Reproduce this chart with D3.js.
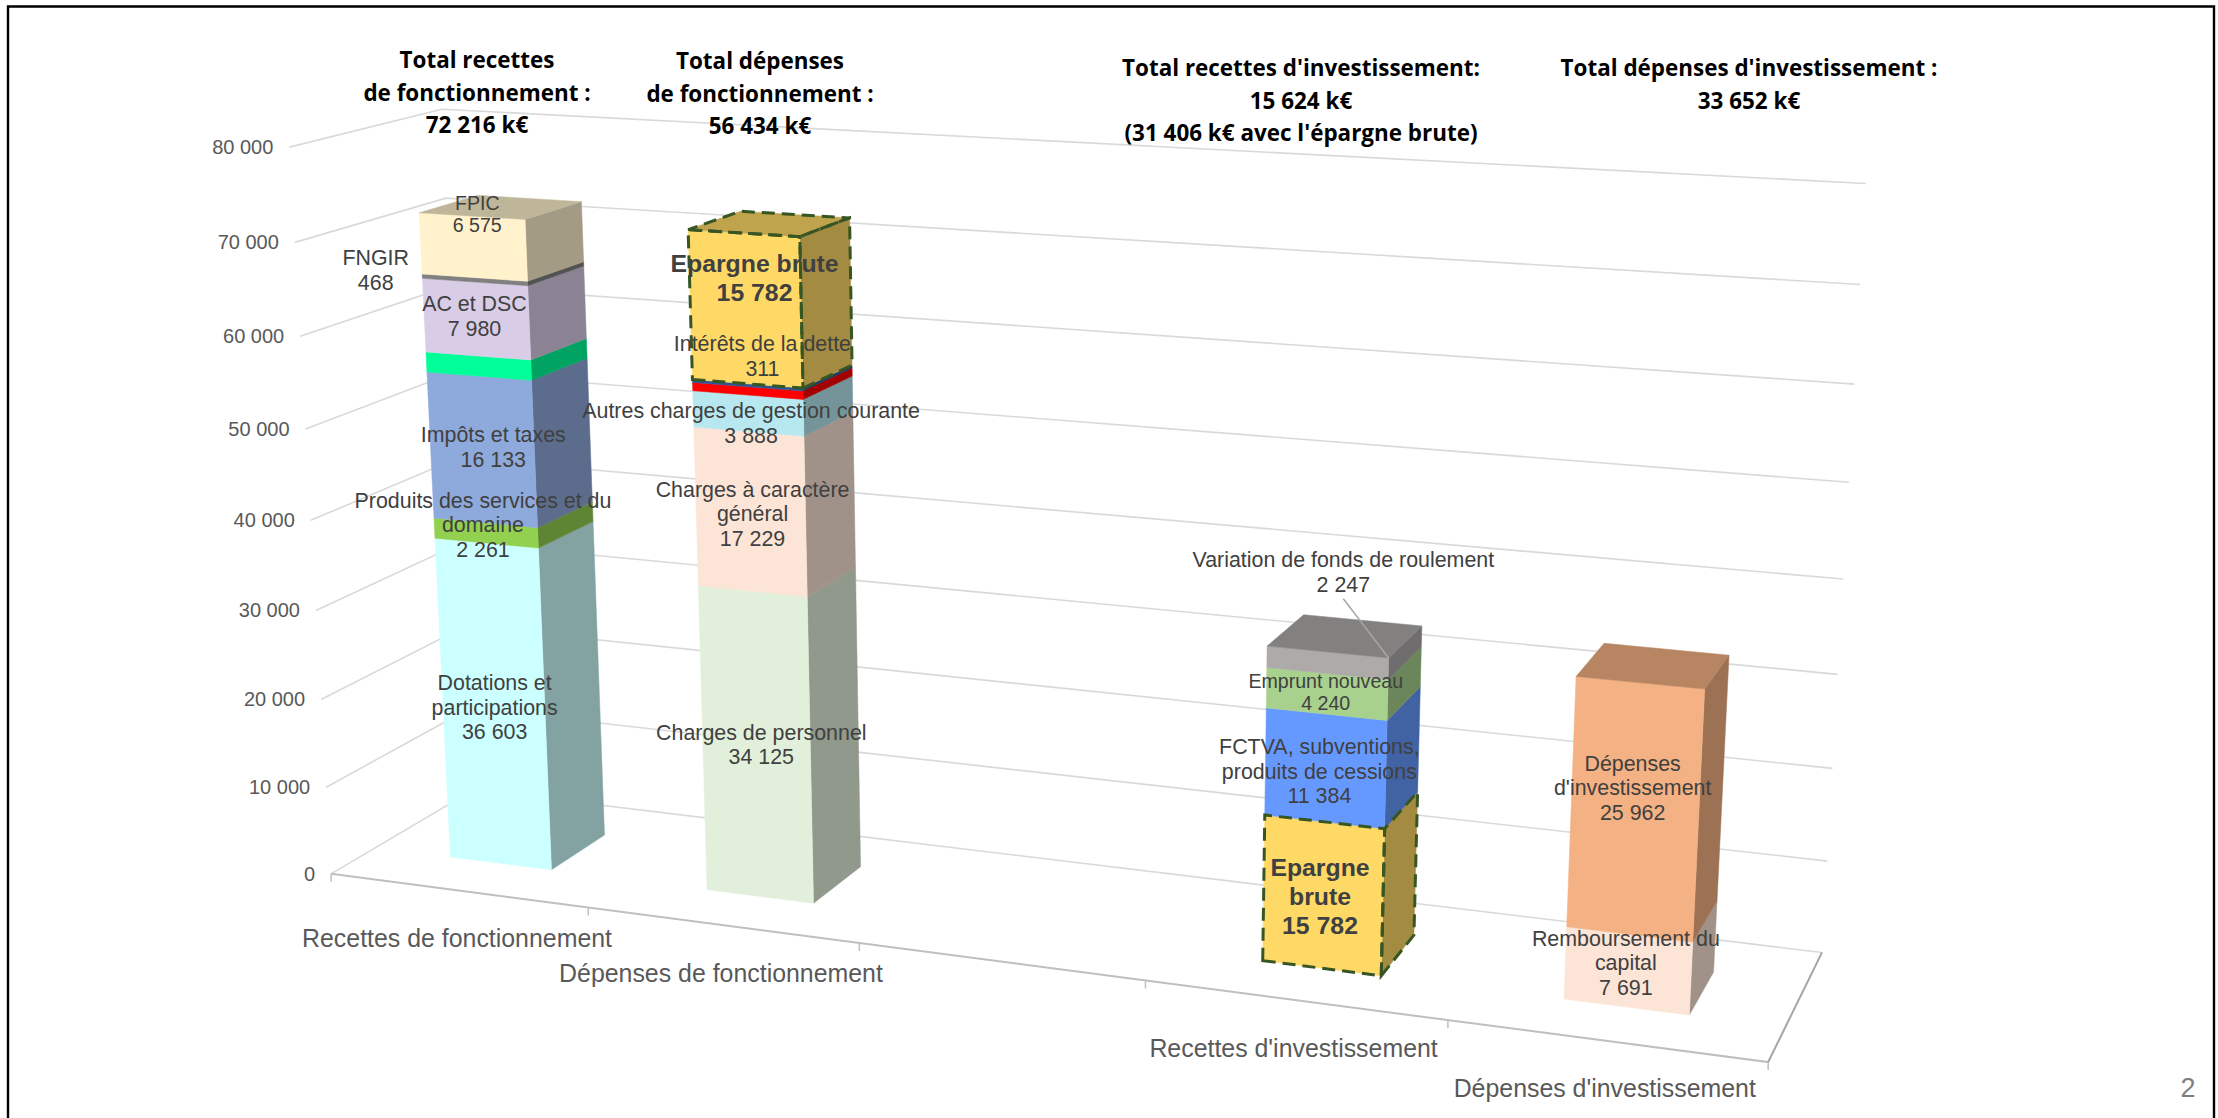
<!DOCTYPE html>
<html>
<head>
<meta charset="utf-8">
<script src="https://cdn.jsdelivr.net/npm/d3@7"></script>
<style>
  body { margin: 0; background: #fff; }
  text { font-family: "Liberation Sans", Arial, sans-serif; }
</style>
</head>
<body>
<div id="maViz"></div>
<script>
// Données
const categories = ["Recettes de fonctionnement", "Dépenses de fonctionnement", "", "Recettes d'investissement", "Dépenses d'investissement"];
const yTicks = [0, 10000, 20000, 30000, 40000, 50000, 60000, 70000, 80000];

const recettesFonctValeurs = [36603, 2261, 16133, 2196, 7980, 468, 6575];
const recettesFonctNoms = ["Dotations et\nparticipations", "Produits des services et du\ndomaine", "Impôts et taxes", "", "AC et DSC", "FNGIR", "FPIC"];
const depensesFonctValeurs = [34125, 17229, 3888, 881, 311, 15782];
const depensesFonctNoms = ["Charges de personnel", "Charges à caractère\ngénéral", "Autres charges de gestion courante", "", "Intérêts de la dette", "Epargne brute"];
const recettesInvValeurs = [15782, 11384, 4240, 2247];
const recettesInvNoms = ["Epargne\nbrute", "FCTVA, subventions,\nproduits de cessions", "Emprunt  nouveau", "Variation de fonds de roulement"];
const depensesInvValeurs = [7691, 25962];
const depensesInvNoms = ["Remboursement du\ncapital", "Dépenses\nd'investissement"];

const totaux = [
  ["Total recettes", "de fonctionnement :", "72 216 k€"],
  ["Total dépenses", "de fonctionnement :", "56 434 k€"],
  ["Total recettes d'investissement:", "15 624 k€", "(31 406 k€ avec l'épargne brute)"],
  ["Total dépenses d'investissement :", "33 652 k€"]
];

// Styles
const recettesFonctCouleurs = ["#CCFFFF", "#92D050", "#8EA9DB", "#00FF99", "#D9CCE6", "#808080", "#FFF2CC"];
const depensesFonctCouleurs = ["#E2EFDA", "#FCE4D6", "#B7E8EF", "#FF0000", "#2F5597", "#FFD966"];
const recettesInvCouleurs = ["#FFD966", "#6699FF", "#A9D18E", "#AEAAAA"];
const depensesInvCouleurs = ["#FCE4D6", "#F4B183"];
const sideShade = 0.64, topShade = 0.75;

// décalage des étiquettes par rapport au centre de la face avant (déplacées à la main dans l'original)
const recettesFonctDecal = [[1, 2], [-3, -8], [11, -3], null, [-2, -3], [-99, -10], [4, -33]];
const depensesFonctDecal = [[5, -1], [2, 2], [3, 10], null, [15, -29], [9, -31]];
const recettesInvDecal = [[-3, 1], [-6, 3], [-1, -2], [16, -91]];
const depensesInvDecal = [[-2, -8], [-2, -22]];
const petitesEtiquettes = ["FPIC", "Emprunt  nouveau"];

const barres = [
  {cat: 0, val: recettesFonctValeurs, noms: recettesFonctNoms, couleurs: recettesFonctCouleurs, decal: recettesFonctDecal},
  {cat: 1, val: depensesFonctValeurs, noms: depensesFonctNoms, couleurs: depensesFonctCouleurs, decal: depensesFonctDecal},
  {cat: 3, val: recettesInvValeurs, noms: recettesInvNoms, couleurs: recettesInvCouleurs, decal: recettesInvDecal},
  {cat: 4, val: depensesInvValeurs, noms: depensesInvNoms, couleurs: depensesInvCouleurs, decal: depensesInvDecal}
];

const width = 2218, height = 1118;
const svg = d3.select("#maViz").append("svg").attr("width", width).attr("height", height);

// Echelles : tout est ramené dans un cube [0,1]
const x = d3.scaleBand().domain(d3.range(categories.length)).range([0, 1]).paddingInner(0.6).paddingOuter(0.3);
const xEdge = d3.scaleLinear().domain([0, categories.length]).range([0, 1]);
const y = d3.scaleLinear().domain([0, 80000]).range([0, 1]);
const z = d3.scaleBand().domain([0]).range([0, 1]).paddingInner(0).paddingOuter(0.75);
const fmt = d3.formatLocale({decimal: ",", thousands: " ", grouping: [3], currency: ["", ""]}).format(",d");

// Caméra du graphique 3D : repères du cadre, matrice résolue par moindres carrés
const reperes = [
  [0, 0, 0, 331, 874], [1, 0, 0, 1769, 1062], [0, 0, 1, 474, 790], [1, 0, 1, 1822, 952],
  [0, 1, 0, 290, 147], [0, 1, 1, 441, 109], [1, 1, 1, 1866, 184],
  [0.2, 0, 0, 588, 908], [0.4, 0, 0, 859, 943], [0.8, 0, 0, 1447, 1020], [0, 0.5, 0, 311, 520]
];
function resoudre(A, b) {
  const n = b.length, M = A.map((l, i) => [...l, b[i]]);
  for (let i = 0; i < n; i++) {
    let p = i;
    for (let k = i + 1; k < n; k++) if (Math.abs(M[k][i]) > Math.abs(M[p][i])) p = k;
    [M[i], M[p]] = [M[p], M[i]];
    for (let k = 0; k < n; k++) {
      if (k === i) continue;
      const f = M[k][i] / M[i][i];
      for (let j = i; j <= n; j++) M[k][j] -= f * M[i][j];
    }
  }
  return M.map((l, i) => l[n] / l[i]);
}
function camera(pts) {
  const lignes = [], cibles = [];
  pts.forEach(([u, w, t, px, py]) => {
    const a = px / 1000, c = py / 1000;
    lignes.push([u, w, t, 1, 0, 0, 0, 0, -a * u, -a * w, -a * t]); cibles.push(a);
    lignes.push([0, 0, 0, 0, u, w, t, 1, -c * u, -c * w, -c * t]); cibles.push(c);
  });
  const N = d3.range(11).map(i => d3.range(11).map(j => d3.sum(lignes, l => l[i] * l[j])));
  const v = d3.range(11).map(i => d3.sum(lignes, (l, k) => l[i] * cibles[k]));
  return resoudre(N, v);
}
const P = camera(reperes);
function proj(u, w, t) {
  const d = P[8] * u + P[9] * w + P[10] * t + 1;
  return [1000 * (P[0] * u + P[1] * w + P[2] * t + P[3]) / d, 1000 * (P[4] * u + P[5] * w + P[6] * t + P[7]) / d];
}
const ligne = d3.line();

// Cadre noir de la diapo
svg.append("path").attr("d", ligne([[8, height], [8, 6.5], [2214, 6.5], [2214, height]]))
  .attr("fill", "none").attr("stroke", "#000").attr("stroke-width", 2.4);

// Grille (paroi gauche + paroi du fond)
const grille = svg.append("g").attr("fill", "none").attr("stroke", "#D9D9D9").attr("stroke-width", 1.6);
yTicks.forEach(d => {
  grille.append("path").attr("d", ligne([proj(0, y(d), 0), proj(0, y(d), 1), proj(1, y(d), 1)]));
});

// Sol
svg.append("path").attr("d", ligne([proj(0, 0, 0), proj(1, 0, 0), proj(1, 0, 1)]))
  .attr("fill", "none").attr("stroke", "#BFBFBF").attr("stroke-width", 2);
svg.append("path").attr("d", ligne([proj(1, 0, 0), proj(1, 0, 1)]))
  .attr("fill", "none").attr("stroke", "#A6A6A6").attr("stroke-width", 1.6);

// Petits traits sous le sol
d3.range(categories.length + 1).forEach(i => {
  const p = proj(xEdge(i), 0, 0);
  svg.append("line").attr("x1", p[0]).attr("x2", p[0]).attr("y1", p[1]).attr("y2", p[1] + 8)
    .attr("stroke", "#BFBFBF").attr("stroke-width", 1.5);
});

// Axe des valeurs
svg.append("g").selectAll("text").data(yTicks).join("text")
  .attr("x", d => proj(0, y(d), 0)[0] - 16)
  .attr("y", d => proj(0, y(d), 0)[1])
  .attr("dy", "0.35em").attr("text-anchor", "end")
  .attr("font-size", 20).attr("fill", "#595959")
  .text(d => fmt(d));

// Noms des catégories
svg.append("g").selectAll("text").data(categories).join("text")
  .attr("x", (d, i) => proj(x(i) + x.bandwidth() / 2, 0, 0)[0] - 1)
  .attr("y", (d, i) => proj(x(i) + x.bandwidth() / 2, 0, 0)[1] + 48)
  .attr("dy", "0.35em").attr("text-anchor", "middle")
  .attr("font-size", 24.9).attr("fill", "#595959")
  .text(d => d);

function assombrir(c, k) {
  const r = d3.rgb(c);
  return d3.rgb(r.r * k, r.g * k, r.b * k).formatHex();
}

// Barres empilées
const groupeBarres = svg.append("g");
const groupePointilles = svg.append("g");
const groupeEtiquettes = svg.append("g").attr("text-anchor", "middle").attr("fill", "#404040");

barres.forEach(b => {
  const u0 = x(b.cat), u1 = u0 + x.bandwidth();
  const t0 = z(0), t1 = t0 + z.bandwidth();
  let cumul = 0;
  b.val.forEach((v, i) => {
    const w0 = y(cumul), w1 = y(cumul + v);
    cumul += v;
    const avant = [proj(u0, w0, t0), proj(u1, w0, t0), proj(u1, w1, t0), proj(u0, w1, t0)];
    const cote = [proj(u1, w0, t0), proj(u1, w0, t1), proj(u1, w1, t1), proj(u1, w1, t0)];
    const dessus = [proj(u0, w1, t0), proj(u1, w1, t0), proj(u1, w1, t1), proj(u0, w1, t1)];
    const faces = [[cote, assombrir(b.couleurs[i], sideShade)], [avant, b.couleurs[i]]];
    if (i === b.val.length - 1) faces.push([dessus, assombrir(b.couleurs[i], topShade)]);
    faces.forEach(([pts, c]) => {
      groupeBarres.append("path").attr("d", ligne(pts) + "Z")
        .attr("fill", c).attr("stroke", c).attr("stroke-width", 0.5);
    });

    const epargne = b.noms[i].startsWith("Epargne");
    if (epargne) {
      faces.forEach(([pts]) => {
        groupePointilles.append("path").attr("d", ligne(pts) + "Z")
          .attr("fill", "none").attr("stroke", "#375623").attr("stroke-width", 3)
          .attr("stroke-dasharray", "13 7");
      });
    }

    // Etiquette : nom + valeur
    if (b.noms[i]) {
      const c = proj((u0 + u1) / 2, (w0 + w1) / 2, t0);
      const lignes = [...b.noms[i].split("\n"), fmt(v)];
      const petite = petitesEtiquettes.includes(b.noms[i]);
      const fs = epargne ? 24.8 : petite ? 19.6 : 21.4;
      const lh = epargne ? 29 : petite ? 22 : 24.7;
      const cx = c[0] + b.decal[i][0], cy = c[1] + b.decal[i][1];
      const txt = groupeEtiquettes.append("text")
        .attr("font-size", fs).attr("font-weight", epargne ? "bold" : "normal");
      lignes.forEach((l, k) => {
        txt.append("tspan").attr("x", cx)
          .attr("y", cy + (k - (lignes.length - 1) / 2) * lh)
          .attr("dy", "0.35em").text(l);
      });
      // trait de rappel de la variation de fonds de roulement
      if (b.noms[i].startsWith("Variation")) {
        const fin = proj(u1, w1, t0);
        svg.append("line").attr("x1", cx).attr("y1", cy + 27).attr("x2", fin[0]).attr("y2", fin[1])
          .attr("stroke", "#A6A6A6").attr("stroke-width", 1.5);
      }
    }
  });
});

// Totaux au-dessus du graphique (texte resserré pour approcher la police d'origine)
const positionsTotaux = [[477, 60], [760, 61], [1301, 68], [1749, 68]];
svg.append("g").selectAll("text").data(totaux).join("text")
  .attr("text-anchor", "middle").attr("font-weight", "bold").attr("fill", "#000")
  .style("font-family", "'Open Sans'").attr("font-size", 24)
  .attr("transform", (d, i) => `translate(${positionsTotaux[i][0]},${positionsTotaux[i][1]}) scale(0.935,1)`)
  .each(function(d) {
    d.forEach((l, k) => {
      d3.select(this).append("tspan").attr("x", 0)
        .attr("y", k * 32.4).attr("dy", "0.35em").text(l);
    });
  });

// Numéro de page
svg.append("text").attr("x", 2188).attr("y", 1088).attr("dy", "0.35em").attr("text-anchor", "middle")
  .attr("font-size", 27).attr("fill", "#7F7F7F").text("2");
</script>
</body>
</html>
